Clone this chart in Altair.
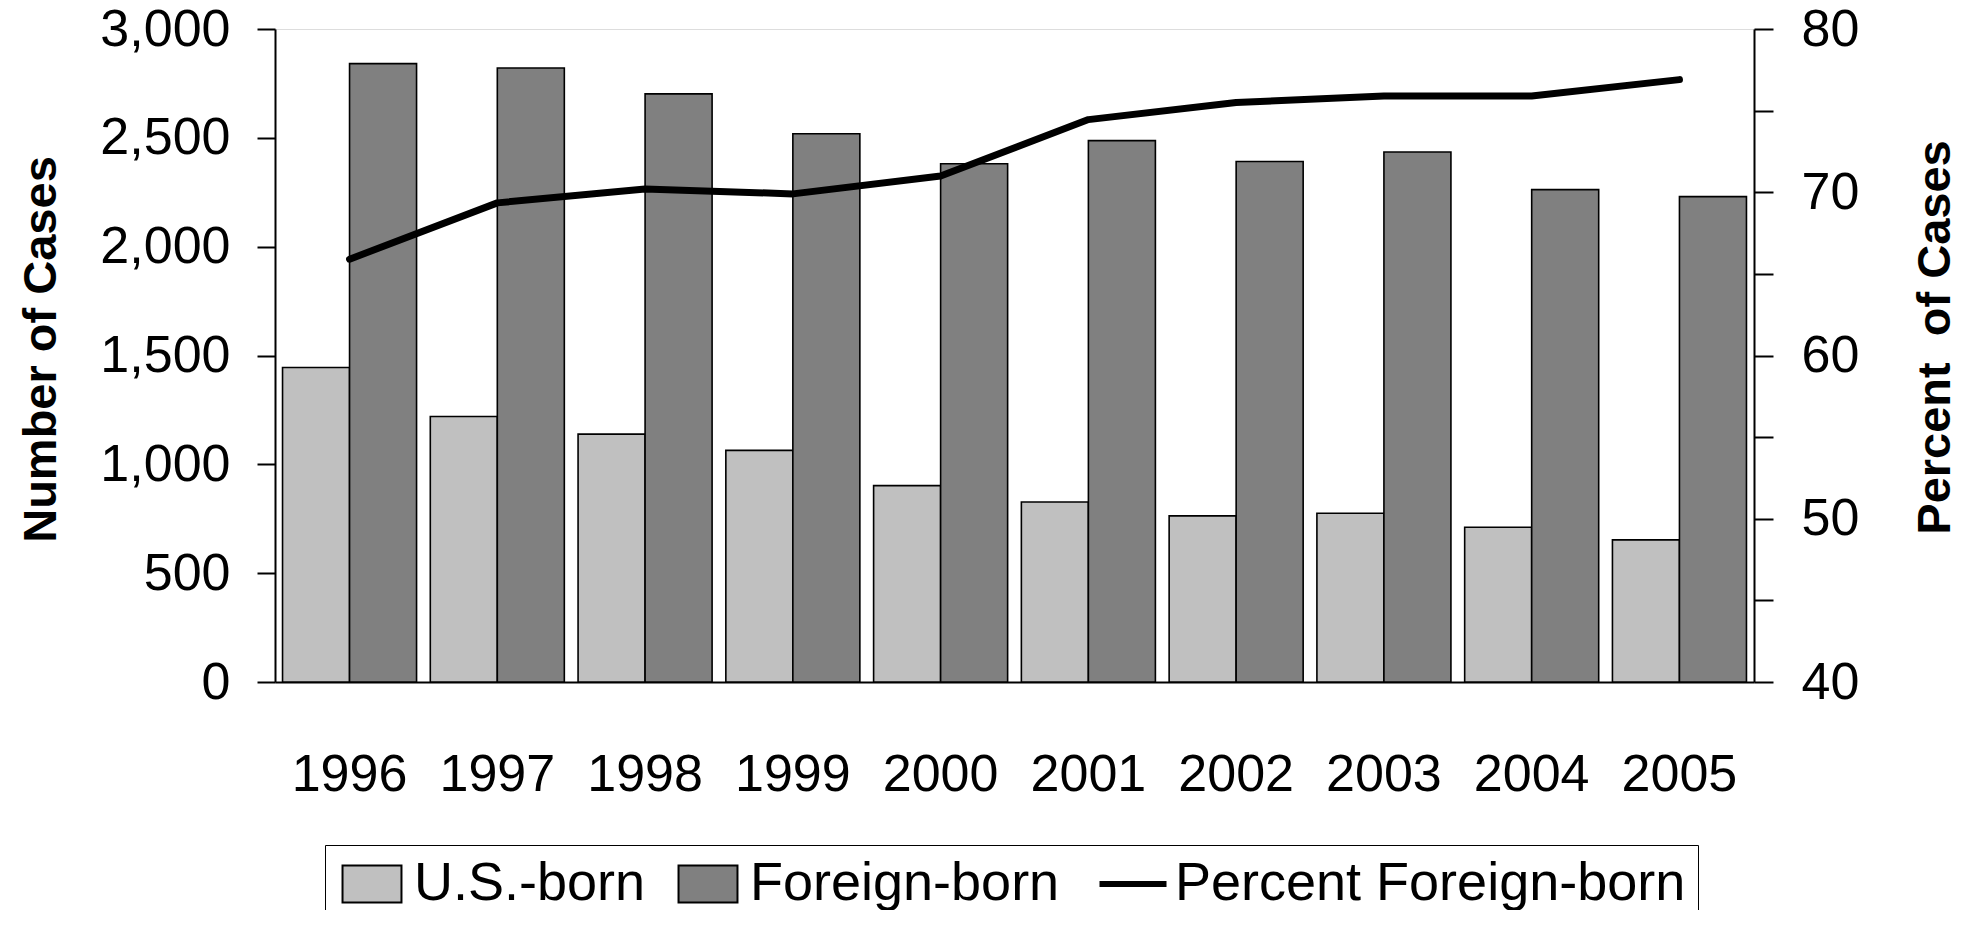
import altair as alt
import pandas as pd

years = [str(y) for y in range(1996, 2006)]
us_born = [1445, 1220, 1139, 1064, 902, 827, 763, 775, 711, 653]
foreign_born = [2841, 2821, 2702, 2519, 2381, 2487, 2391, 2435, 2262, 2230]
pct_foreign = [65.9, 69.35, 70.2, 69.9, 71.0, 74.45, 75.5, 75.9, 75.9, 76.9]
groups = ["U.S.-born", "Foreign-born", "Percent Foreign-born"]
colors = ["#c0c0c0", "#808080", "#000000"]
left_ticks = [0, 500, 1000, 1500, 2000, 2500, 3000]
right_ticks = [40, 45, 50, 55, 60, 65, 70, 75, 80]

bars_df = pd.DataFrame({
    "Year": years * 2,
    "Group": [groups[0]] * len(years) + [groups[1]] * len(years),
    "Cases": us_born + foreign_born,
})
line_df = pd.DataFrame({"Year": years, "Group": groups[2], "Percent": pct_foreign})

FONT = "Liberation Sans"
LINE_KEY = groups[2]

legend = alt.Legend(
    title=None, orient="none", legendX=50, legendY=816, direction="horizontal",
    labelFont=FONT, labelFontSize=54, labelColor="black", labelLimit=2000,
    labelOffset=15, columnPadding=27, padding=12, strokeColor="black",
    symbolSize=4489, symbolOpacity=1, symbolOffset=8,
    symbolType={"expr": f"datum.value === '{LINE_KEY}' ? 'M-1,0H1' : 'M-0.88,-0.552H0.88V0.552H-0.88Z'"},
    symbolStrokeWidth={"expr": f"datum.value === '{LINE_KEY}' ? 6 : 2"},
    symbolStrokeColor="black",
)
fill = alt.Fill("Group:N", scale=alt.Scale(domain=groups, range=colors), legend=legend)
stroke = alt.Stroke("Group:N", scale=alt.Scale(domain=groups[2:], range=["#000000"]), legend=None)

x = alt.X(
    "Year:N",
    scale=alt.Scale(paddingInner=0.093, paddingOuter=0.051),
    axis=alt.Axis(title=None, labelAngle=0, ticks=False, labelPadding=67,
                  labelFont=FONT, labelFontSize=52, labelColor="black",
                  domainColor="black", domainWidth=2),
)

bars = alt.Chart(bars_df).mark_bar(stroke="black", strokeWidth=1.6).encode(
    x=x,
    xOffset=alt.XOffset("Group:N", scale=alt.Scale(domain=groups[:2], paddingInner=0, paddingOuter=0)),
    y=alt.Y("Cases:Q", scale=alt.Scale(domain=[0, 3000], nice=False),
            axis=alt.Axis(values=left_ticks, format=",.0f", title="Number of Cases",
                          titleFont=FONT, titleFontSize=47, titleFontWeight="bold",
                          titleColor="black", titleX=-210, titleY=320,
                          labelFont=FONT, labelFontSize=52, labelColor="black",
                          labelPadding=27, tickSize=18, tickWidth=2, tickColor="black",
                          domainColor="black", domainWidth=2, grid=False)),
    fill=fill,
)

line = alt.Chart(line_df).mark_line(strokeWidth=7, strokeCap="round", strokeJoin="round").encode(
    x=x,
    y=alt.Y("Percent:Q", scale=alt.Scale(domain=[40, 80], nice=False),
            axis=alt.Axis(orient="right", values=right_ticks,
                          labelExpr="datum.value % 10 == 0 ? datum.label : ''",
                          title="Percent\u00a0 of Cases",
                          titleFont=FONT, titleFontSize=47, titleFontWeight="bold",
                          titleColor="black", titleAngle=270, titleBaseline="top",
                          titleX=158, titleY=308,
                          labelFont=FONT, labelFontSize=52, labelColor="black",
                          labelPadding=28, tickSize=19, tickWidth=2, tickColor="black",
                          domainColor="black", domainWidth=2, grid=False)),
    stroke=stroke,
)

chart = alt.layer(bars, line).resolve_scale(y="independent").properties(
    width=1479, height=653,
    padding={"left": 267, "top": 21, "right": 208, "bottom": 228},
    autosize="none",
).configure_view(stroke="black", strokeWidth=2).configure(background="white")

chart.save("out.html", embed_options={"renderer": "svg", "actions": False})
